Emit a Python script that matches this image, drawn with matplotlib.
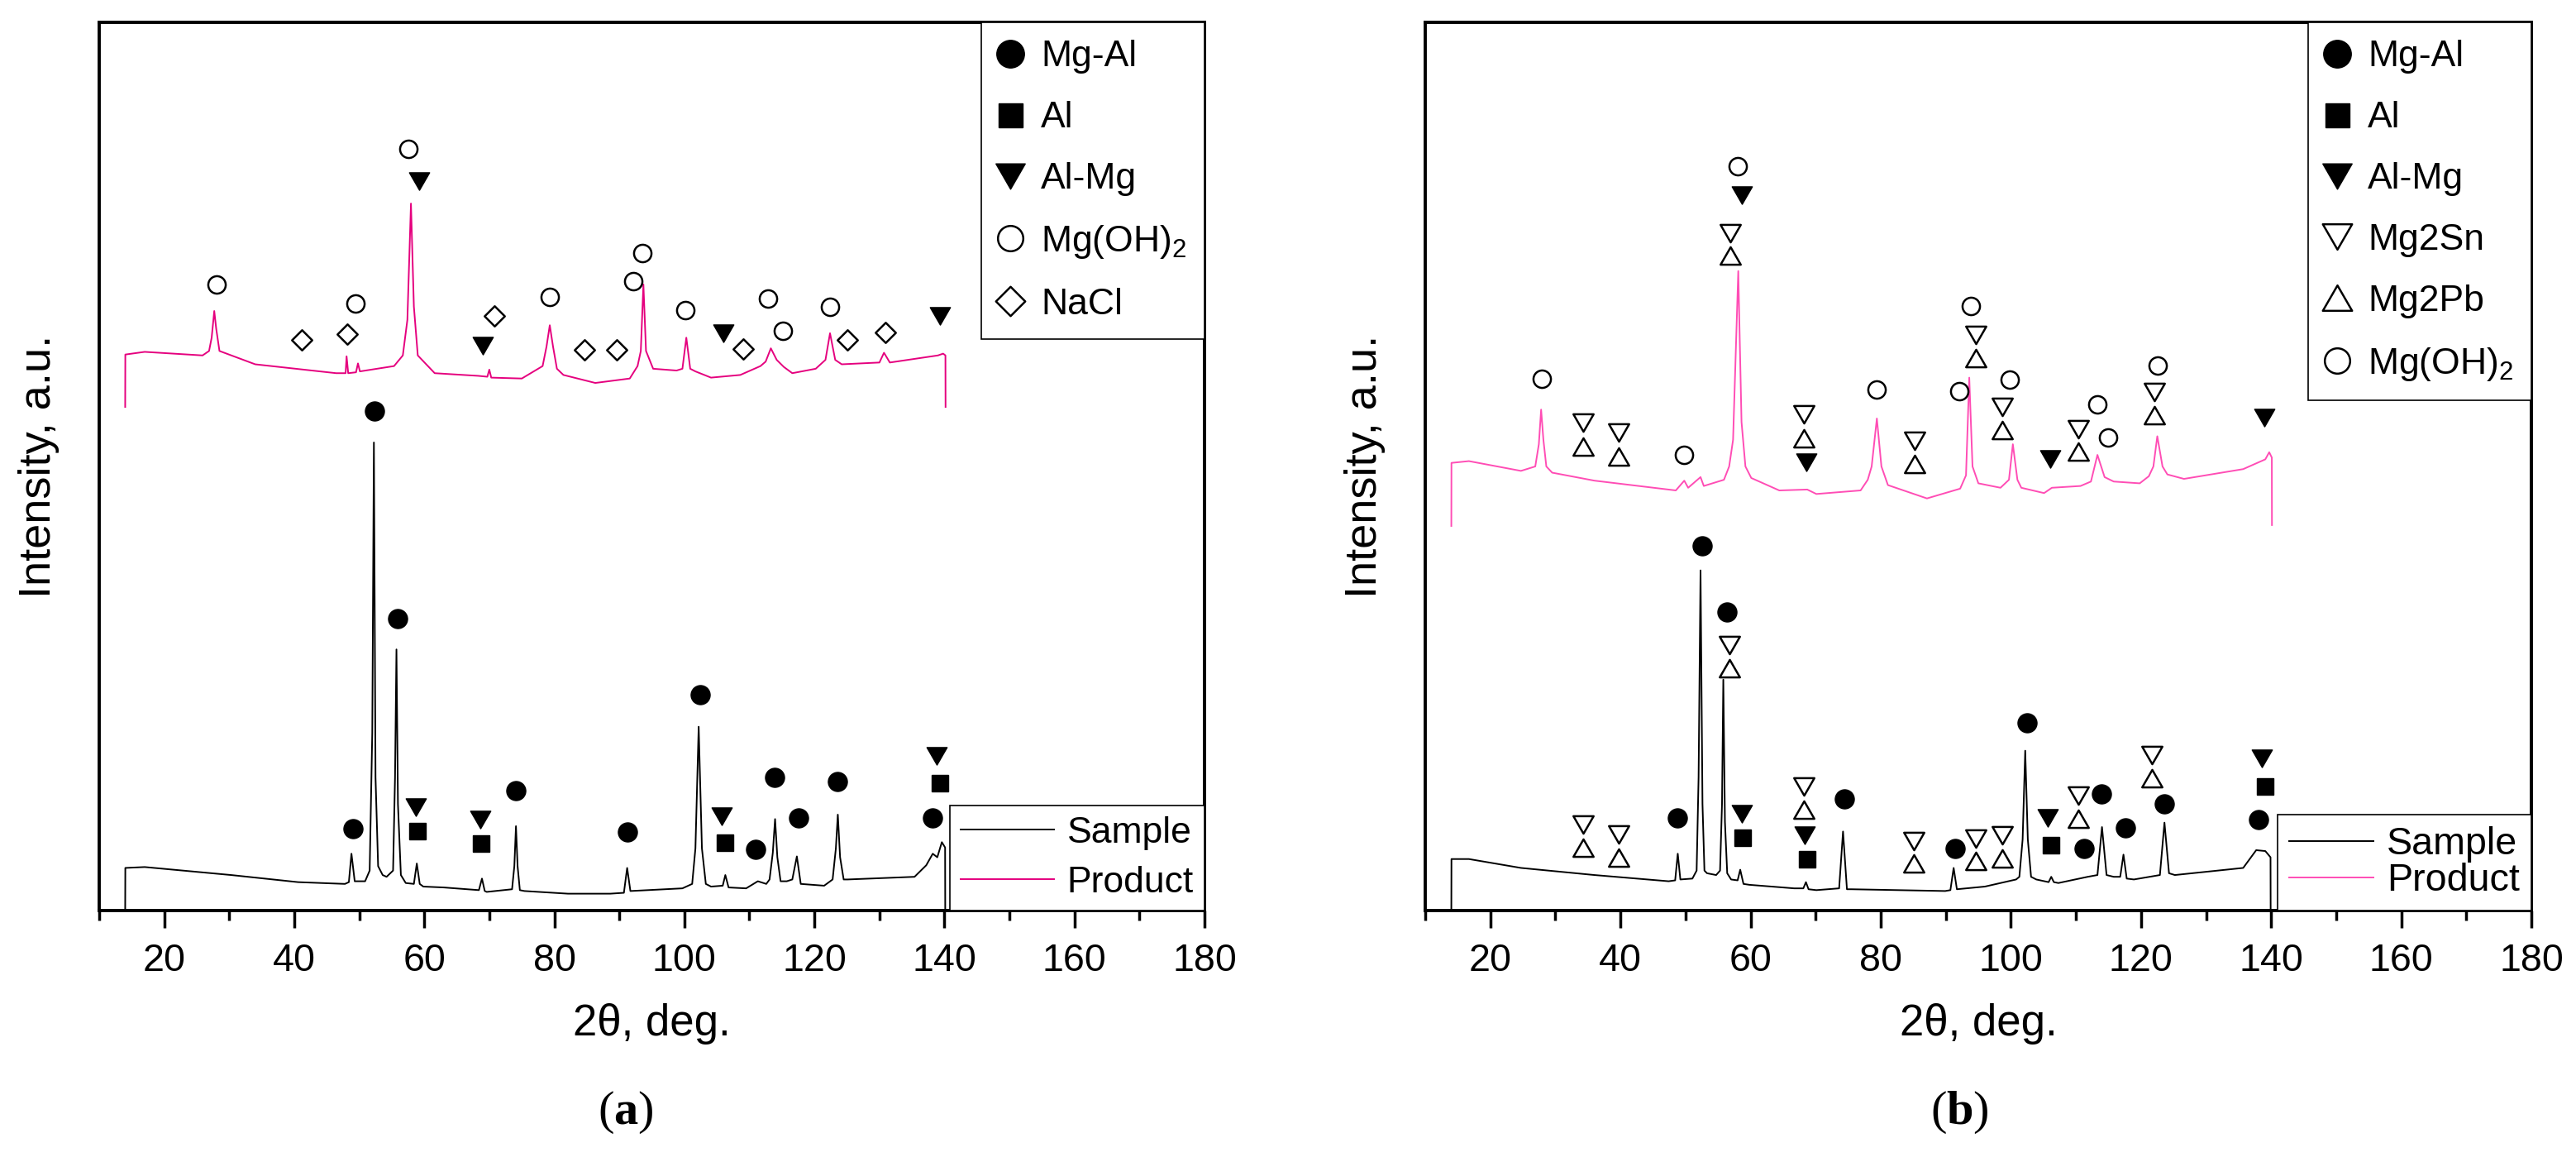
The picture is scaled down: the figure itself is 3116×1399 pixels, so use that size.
import matplotlib
matplotlib.use("Agg")
import matplotlib.pyplot as plt
from matplotlib.lines import Line2D
from matplotlib.path import Path
from matplotlib.ticker import MultipleLocator

plt.rcParams['font.family'] = ['Liberation Sans', 'DejaVu Sans']
plt.rcParams['mathtext.fontset'] = 'custom'
plt.rcParams['mathtext.rm'] = 'Liberation Sans'
plt.rcParams['mathtext.bf'] = 'Liberation Serif:bold'
plt.rcParams['mathtext.default'] = 'regular'

# ---- curves (2theta, intensity on a 0-100 axis) ----
sample_a_x = [14.0, 14.02, 17.0, 30.3, 40.6, 47.8, 48.4, 48.8, 49.3, 50.9, 51.6, 52.0, 52.25, 52.5, 52.9,
              53.6, 54.2, 55.2, 55.5, 55.72, 55.95, 56.4, 57.15, 58.4, 58.85, 59.3, 59.85, 63.0, 68.4,
              68.87, 69.3, 69.6, 73.5, 73.85, 74.1, 74.35, 74.7, 75.4, 82.1, 88.6, 90.7, 91.2, 91.7,
              99.7, 101.2, 101.7, 102.2, 102.7, 103.3, 104.1, 105.9, 106.3, 106.8, 109.5, 111.3, 112.6,
              113.1, 113.6, 113.95, 114.3, 114.8, 115.75, 116.6, 117.3, 117.9, 121.5, 122.8, 123.3,
              123.6, 123.95, 124.5, 125.1, 135.4, 137.2, 138.2, 138.9, 139.6, 140.1, 140.12]
sample_a_y = [0.0, 4.8, 4.9, 4.0, 3.2, 3.0, 3.2, 6.4, 3.3, 3.3, 4.5, 20.0, 52.7, 15.0, 5.0,
              4.0, 3.8, 4.5, 15.0, 29.4, 12.0, 4.0, 3.1, 3.0, 5.3, 3.0, 2.7, 2.6, 2.3,
              3.6, 2.2, 2.1, 2.4, 5.0, 9.5, 5.0, 2.3, 2.2, 1.9, 1.9, 2.0, 4.8, 2.2,
              2.5, 3.0, 7.0, 20.7, 7.0, 3.0, 2.7, 2.8, 4.0, 2.6, 2.5, 3.3, 3.0,
              3.5, 6.5, 10.3, 6.0, 3.3, 3.3, 3.5, 6.1, 3.0, 2.8, 3.5, 7.0,
              10.8, 6.0, 3.5, 3.5, 3.8, 5.1, 6.4, 6.0, 7.7, 7.1, 0.0]

product_a_x = [14.0, 14.02, 17.0, 25.9, 26.9, 27.3, 27.7, 28.0, 28.5, 34.0, 46.45, 47.9, 48.05, 48.3,
               49.5, 49.8, 50.1, 55.35, 56.7, 57.4, 57.95, 58.4, 59.0, 61.6, 68.3, 69.7, 70.0, 70.3,
               75.0, 78.2, 78.8, 79.3, 79.8, 80.4, 81.4, 86.3, 91.6, 92.8, 93.3, 93.7, 94.1, 95.2,
               98.8, 99.7, 100.3, 100.9, 101.7, 104.1, 108.6, 111.7, 112.5, 113.3, 114.2, 115.3,
               116.6, 120.2, 121.7, 122.4, 123.2, 124.2, 130.0, 130.7, 131.6, 139.0, 139.8, 140.15,
               140.17]
product_a_y = [56.7, 62.6, 62.9, 62.5, 63.0, 64.5, 67.5, 65.5, 63.0, 61.5, 60.5, 60.5, 62.4, 60.5,
               60.6, 61.6, 60.7, 61.3, 62.5, 66.5, 79.6, 68.0, 62.5, 60.5, 60.2, 60.1, 60.9, 60.0,
               59.9, 61.3, 63.5, 65.9, 63.5, 61.0, 60.3, 59.4, 59.9, 61.3, 63.0, 70.5, 63.0, 61.0,
               60.8, 61.0, 64.5, 61.0, 60.7, 60.0, 60.3, 61.3, 61.8, 63.3, 62.0, 61.2,
               60.5, 61.0, 62.0, 65.0, 62.0, 61.5, 61.7, 62.8, 61.7, 62.5, 62.7, 62.5,
               56.7]

sample_b_x = [14.0, 14.02, 16.7, 24.7, 36.0, 47.4, 48.4, 48.8, 49.2, 51.05, 51.7, 52.0, 52.3, 52.6,
              52.9, 53.3, 54.7, 55.3, 55.6, 55.8, 56.05, 56.4, 57.0, 58.0, 58.4, 58.9, 59.8, 66.7,
              68.1, 68.5, 68.9, 70.1, 73.6, 74.2, 74.8, 75.5, 89.9, 90.7, 91.2, 91.7, 96.0, 100.8,
              101.3, 101.8, 102.2, 102.6, 103.1, 103.9, 105.8, 106.2, 106.6, 107.3, 111.8, 113.3,
              114.0, 114.7, 115.8, 116.8, 117.3, 117.8, 118.9, 122.9, 123.6, 124.3, 125.2, 135.7,
              137.7, 139.1, 139.9, 139.92]
sample_b_y = [0.0, 5.8, 5.8, 4.8, 4.0, 3.3, 3.4, 6.4, 3.5, 3.6, 4.5, 15.0, 38.3, 12.0,
              4.5, 4.2, 4.0, 4.5, 12.0, 26.0, 10.0, 4.2, 3.5, 3.4, 4.6, 3.0, 2.9, 2.5,
              2.5, 3.2, 2.4, 2.3, 2.5, 8.9, 2.4, 2.4, 2.2, 2.3, 4.8, 2.4, 2.7, 3.5,
              3.8, 8.0, 18.0, 8.0, 3.8, 3.5, 3.2, 3.8, 3.2, 3.1, 3.8, 4.0,
              9.4, 4.0, 3.8, 3.8, 6.3, 3.6, 3.5, 4.0, 9.9, 4.2, 4.0, 4.8,
              6.8, 6.7, 6.0, 0.0]

product_b_x = [14.0, 14.02, 16.7, 24.7, 26.9, 27.45, 27.8, 28.15, 28.6, 29.5, 36.0, 48.5, 49.8, 50.4,
               52.3, 52.8, 55.9, 56.7, 57.3, 58.1, 58.6, 59.2, 60.1, 64.4, 68.7, 70.1, 76.9, 78.0,
               78.6, 79.4, 80.1, 81.1, 87.1, 92.2, 93.1, 93.6, 94.1, 95.0, 98.4, 99.7, 100.3, 101.0,
               101.6, 105.1, 106.3, 110.7, 112.3, 113.3, 114.4, 115.8, 119.8, 121.2, 121.9, 122.5,
               123.3, 124.05, 126.6, 135.7, 139.1, 139.7, 140.1, 140.12]
product_b_y = [43.3, 50.4, 50.6, 49.5, 50.0, 52.5, 56.4, 53.0, 50.0, 49.3, 48.4, 47.3, 48.4, 47.6,
               48.8, 47.8, 48.5, 50.0, 53.0, 72.0, 55.0, 50.0, 48.7, 47.3, 47.4, 46.9, 47.3, 48.5,
               50.0, 55.4, 50.0, 47.9, 46.4, 47.5, 49.0, 60.0, 50.0, 48.1, 47.6, 48.5, 52.5, 48.5,
               47.6, 47.0, 47.6, 47.8, 48.3, 51.3, 48.8, 48.3, 48.1, 48.9, 50.0, 53.4,
               50.0, 49.1, 48.6, 49.7, 50.8, 51.6, 51.0, 43.4]

# ---- phase markers (2theta, height) ----
a_mgal = [(49.0, 9.2), (52.3, 56.2), (55.9, 32.9), (74.1, 13.5), (91.2, 8.8), (102.4, 24.3),
          (111.0, 6.9), (113.9, 15.0), (117.6, 10.4), (123.6, 14.5), (138.2, 10.4)]
a_al = [(59.0, 8.9), (68.8, 7.5), (106.2, 7.6), (139.3, 14.3)]
a_almg = [(58.7, 11.6), (68.6, 10.2), (105.8, 10.6), (138.8, 17.4),
          (59.2, 82.1), (69.0, 63.6), (106.0, 65.0), (139.3, 66.9)]
a_mgoh = [(28.05, 70.5), (49.4, 68.3), (57.6, 85.8), (79.3, 69.1), (92.2, 70.9), (93.5, 74.0),
          (100.1, 67.6), (112.85, 68.9), (115.2, 65.3), (122.4, 68.0)]
a_nacl = [(41.2, 64.2), (48.1, 64.9), (70.8, 66.9), (84.6, 63.1), (89.55, 63.1), (109.1, 63.2),
          (125.1, 64.2), (130.9, 65.1)]

b_mgal = [(48.8, 10.4), (52.5, 41.1), (56.4, 33.6), (74.4, 12.6), (91.4, 7.0), (102.5, 21.1),
          (111.3, 7.0), (113.9, 13.1), (117.6, 9.3), (123.6, 12.0), (138.1, 10.2)]
b_al = [(58.8, 8.2), (68.7, 5.8), (106.2, 7.4), (139.1, 14.0)]
b_almg = [(58.6, 10.9), (68.3, 8.5), (105.7, 10.4), (138.6, 17.1),
          (58.6, 80.5), (68.6, 50.5), (106.0, 50.8), (138.9, 55.5)]
b_mg2sn = [(34.2, 9.7), (39.7, 8.6), (56.7, 29.9), (68.2, 14.0), (85.1, 7.8), (94.6, 8.1),
           (98.7, 8.5), (110.3, 12.9), (121.7, 17.5),
           (34.2, 54.9), (39.75, 53.8), (56.9, 76.3), (68.2, 55.9), (85.2, 52.9), (94.6, 64.8),
           (98.7, 56.7), (110.4, 54.2), (122.0, 58.4)]
b_mg2pb = [(34.2, 7.1), (39.7, 6.0), (56.7, 27.3), (68.2, 11.4), (85.1, 5.3), (94.6, 5.6),
           (98.7, 5.9), (110.3, 10.3), (121.7, 14.9),
           (34.2, 52.2), (39.75, 51.1), (56.9, 73.7), (68.2, 53.2), (85.2, 50.3), (94.6, 62.2),
           (98.7, 54.1), (110.4, 51.7), (122.0, 55.8)]
b_mgoh = [(27.9, 59.9), (49.8, 51.3), (58.0, 83.8), (79.3, 58.7), (92.1, 58.5), (93.8, 68.1),
          (99.8, 59.8), (113.3, 57.0), (114.9, 53.3), (122.5, 61.4)]

PINK_A = '#E5007E'
PINK_B = '#FF4DB5'

tri_down = Path([(-1, 0.866), (1, 0.866), (0, -0.866), (-1, 0.866)], closed=True)
tri_up = Path([(-1, -0.866), (1, -0.866), (0, 0.866), (-1, -0.866)], closed=True)
diamond = Path([(0, 1), (1, 0), (0, -1), (-1, 0), (0, 1)], closed=True)

FILLED = dict(mfc='k', mec='k', mew=0.5)
OPEN = dict(mfc='white', mec='k', mew=0.9)


def mark(ax, pts, label, marker, ms, style):
    xs = [p[0] for p in pts]
    ys = [p[1] for p in pts]
    return ax.plot(xs, ys, ls='none', marker=marker, ms=ms, label=label, **style)[0]


def style_axes(ax):
    ax.set_xlim(10, 180)
    ax.set_ylim(0, 100)
    ax.xaxis.set_major_locator(MultipleLocator(20))
    ax.xaxis.set_minor_locator(MultipleLocator(10))
    ax.set_yticks([])
    ax.tick_params(axis='x', which='major', direction='out', length=7.6, width=1.25,
                   labelsize=16.8, pad=6.5)
    ax.tick_params(axis='x', which='minor', direction='out', length=4.3, width=1.25)
    for s in ax.spines.values():
        s.set_linewidth(1.4)
    ax.set_xlabel('2θ, deg.', fontsize=19)
    ax.xaxis.set_label_coords(0.5, -0.104)
    ax.set_ylabel('Intensity, a.u.', fontsize=19.5)
    ax.yaxis.set_label_coords(-0.036, 0.5)


def line_legend(ax, pink, fs, hl, sp, pad):
    hs = [Line2D([], [], color='k', lw=0.7, label='Sample'),
          Line2D([], [], color=pink, lw=0.7, label='Product')]
    leg = ax.legend(handles=hs, loc='lower right', bbox_to_anchor=(1, 0), borderaxespad=0,
                    fancybox=False, edgecolor='k', framealpha=1, fontsize=fs,
                    handlelength=hl, handletextpad=0.34, borderpad=pad, labelspacing=sp)
    leg.get_frame().set_linewidth(0.6)
    return leg


def marker_legend(ax, hs, sp):
    leg = ax.legend(handles=hs, loc='upper right', bbox_to_anchor=(1, 1), borderaxespad=0,
                    fancybox=False, edgecolor='k', framealpha=1, fontsize=16,
                    markerscale=1.45, handlelength=0.6, handletextpad=0.55, borderpad=0.48,
                    labelspacing=sp)
    leg.get_frame().set_linewidth(0.6)
    ax.add_artist(leg)


fig = plt.figure(figsize=(15.58, 6.995), dpi=200)
ax1 = fig.add_axes([0.0385, 0.2130, 0.4291, 0.7677])
ax2 = fig.add_axes([0.5533, 0.2130, 0.4294, 0.7677])

# panel (a)
ax1.plot(sample_a_x, sample_a_y, color='k', lw=0.7)
ax1.plot(product_a_x, product_a_y, color=PINK_A, lw=0.7)
ha = [mark(ax1, a_mgal, 'Mg-Al', 'o', 8.3, FILLED),
      mark(ax1, a_al, 'Al', 's', 7.2, FILLED),
      mark(ax1, a_almg, 'Al-Mg', tri_down, 8.8, FILLED),
      mark(ax1, a_mgoh, 'Mg(OH)$_2$', 'o', 7.6, OPEN),
      mark(ax1, a_nacl, 'NaCl', diamond, 8.8, OPEN)]
style_axes(ax1)
marker_legend(ax1, ha, 0.74)
line_legend(ax1, PINK_A, 16, 2.55, 0.42, 0.3)

# panel (b)
ax2.plot(sample_b_x, sample_b_y, color='k', lw=0.7)
ax2.plot(product_b_x, product_b_y, color=PINK_B, lw=0.7)
hb = [mark(ax2, b_mgal, 'Mg-Al', 'o', 8.3, FILLED),
      mark(ax2, b_al, 'Al', 's', 7.2, FILLED),
      mark(ax2, b_almg, 'Al-Mg', tri_down, 8.8, FILLED),
      mark(ax2, b_mg2sn, 'Mg2Sn', tri_down, 8.8, OPEN),
      mark(ax2, b_mg2pb, 'Mg2Pb', tri_up, 8.8, OPEN),
      mark(ax2, b_mgoh, 'Mg(OH)$_2$', 'o', 7.6, OPEN)]
style_axes(ax2)
marker_legend(ax2, hb, 0.74)
line_legend(ax2, PINK_B, 16.8, 2.2, 0.0, 0.3)

fig.text(0.2429, 0.0386, r'($\mathbf{a}$)', family='Liberation Serif', fontsize=21,
         ha='center', va='center')
fig.text(0.7606, 0.0386, r'($\mathbf{b}$)', family='Liberation Serif', fontsize=21,
         ha='center', va='center')

fig.savefig('out.png', dpi=200)
